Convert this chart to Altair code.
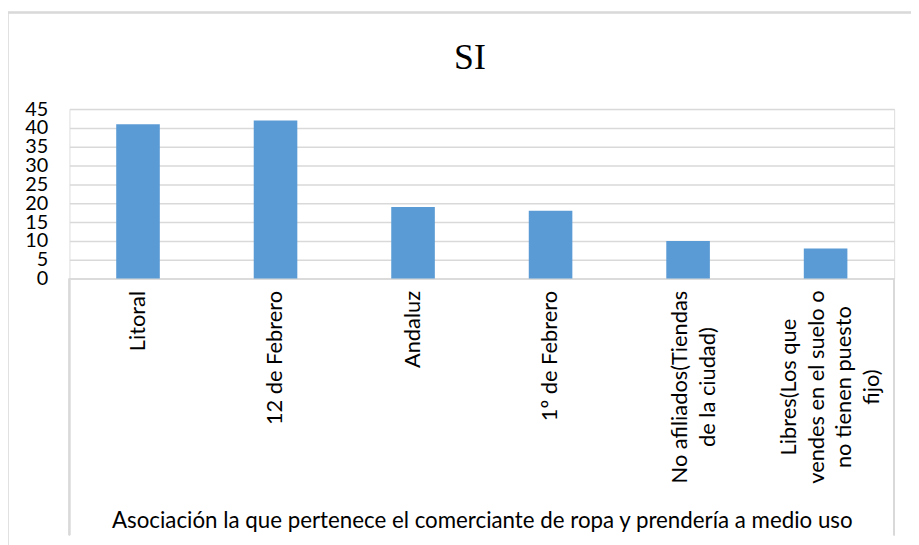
import altair as alt
import pandas as pd

# ---- data ----
categories = [
    "Litoral",
    "12 de Febrero",
    "Andaluz",
    "1º de Febrero",
    "No afiliados(Tiendas|de la ciudad)",
    "Libres(Los que|vendes en el suelo o|no tienen puesto|fijo)",
]
values = [41, 42, 19, 18, 10, 8]
y_ticks = [0, 5, 10, 15, 20, 25, 30, 35, 40, 45]
chart_title = ["SI"]
x_title = "Asociación la que pertenece el comerciante de ropa y prendería a medio uso"

df = pd.DataFrame({"cat": categories, "val": values})
title_df = pd.DataFrame({"t": chart_title})

PLOT_W = 832
PLOT_H = 171
FONT = "Lato"
GRID = "#d9d9d9"

multi_test = "indexof(datum.label, '|') >= 0"

x_enc = alt.X(
    "cat:N",
    sort=categories,
    scale=alt.Scale(paddingInner=0.683, paddingOuter=0.34),
    axis=alt.Axis(
        title=x_title,
        labelAngle=270,
        labelAlign={"condition": {"test": multi_test, "value": "center"}, "value": "right"},
        labelBaseline="middle",
        labelExpr="split(datum.label, '|')",
        labelLineHeight=28,
        labelFont=FONT,
        labelFontSize=22,
        labelColor="#000000",
        labelPadding={"condition": {"test": multi_test, "value": 109}, "value": 12},
        labelOffset={
            "condition": [
                {"test": "indexof(datum.label, 'Libres') == 0", "value": -37},
                {"test": "indexof(datum.label, 'No afiliados') == 0", "value": -8},
            ],
            "value": 0,
        },
        labelLimit=400,
        labelOverlap=False,
        ticks=False,
        domain=True,
        domainColor=GRID,
        domainWidth=1,
        grid=False,
        titleFont=FONT,
        titleFontSize=22.5,
        titleFontWeight="normal",
        titleColor="#000000",
        titleBaseline="alphabetic",
        titleY=251,
    ),
)

y_enc = alt.Y(
    "val:Q",
    scale=alt.Scale(domain=[0, 45], nice=False),
    axis=alt.Axis(
        title=None,
        values=y_ticks,
        domain=False,
        ticks=False,
        grid=True,
        gridColor=GRID,
        gridWidth=1.5,
        labelFont=FONT,
        labelFontSize=20,
        labelColor="#000000",
        labelPadding=22,
        labelOverlap=False,
    ),
)

bars = alt.Chart(df).mark_bar(color="#5b9bd5").encode(x=x_enc, y=y_enc)

# category-axis box sides (Excel style)
left_side = alt.Chart(df).mark_rule(color=GRID, strokeWidth=1.5).encode(
    x=alt.value(0), y=alt.value(PLOT_H), y2=alt.value(PLOT_H + 259)
)
right_side = alt.Chart(df).mark_rule(color=GRID, strokeWidth=1.5).encode(
    x=alt.value(PLOT_W), y=alt.value(PLOT_H), y2=alt.value(PLOT_H + 259)
)

# outer chart-area border
frame = alt.Chart(df).mark_rect(fill=None, stroke=GRID, strokeWidth=1.5).encode(
    x=alt.value(-62.5), y=alt.value(-97.5), x2=alt.value(PLOT_W + 40), y2=alt.value(PLOT_H + 300)
)

# chart title "SI"
title_mark = alt.Chart(title_df).mark_text(
    font="Liberation Serif", fontSize=36, color="#000000",
    align="center", baseline="alphabetic",
).encode(text="t:N", x=alt.value(404), y=alt.value(-40.6))

chart = (
    alt.layer(frame, bars, left_side, right_side, title_mark)
    .properties(
        width=PLOT_W,
        height=PLOT_H,
        padding={"left": 62, "top": 99.6, "right": 17, "bottom": 266},
        autosize=alt.AutoSizeParams(type="none"),
    )
    .configure_view(stroke=None)
    .configure(background="white")
)

chart.save("out.html", embed_options={"renderer": "svg", "actions": False})
